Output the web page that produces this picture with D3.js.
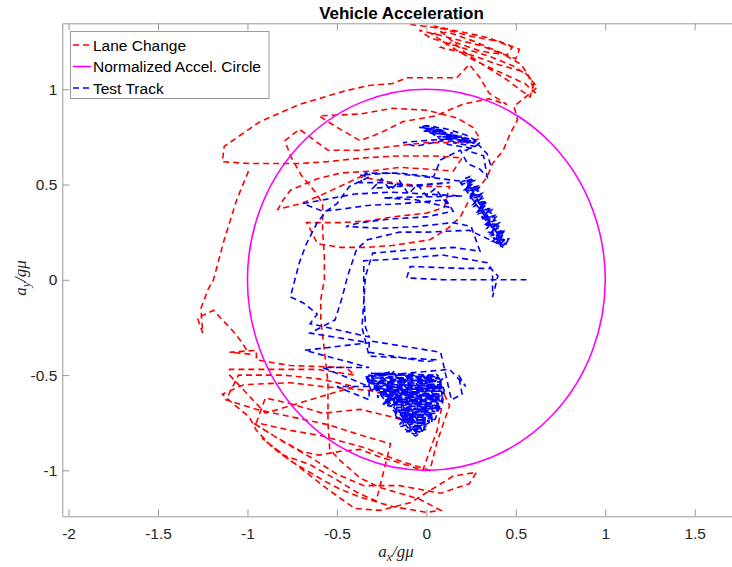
<!DOCTYPE html>
<html>
<head>
<meta charset="utf-8">
<script src="https://cdn.jsdelivr.net/npm/d3@7"></script>
<style>
    body { margin: 0; background: #fff; }
    svg { display: block; }
</style>
</head>
<body>
<div id="chart"></div>
<script>
    // Series names and tick labels
    var seriesNames = ["Lane Change", "Normalized Accel. Circle", "Test Track"];
    var xTicks = [-2, -1.5, -1, -0.5, 0, 0.5, 1, 1.5];
    var xTickLabels = ["-2", "-1.5", "-1", "-0.5", "0", "0.5", "1", "1.5"];
    var yTicks = [-1, -0.5, 0, 0.5, 1];
    var yTickLabels = ["-1", "-0.5", "0", "0.5", "1"];
    var circleRadius = 1;

    // Lane change trace [ax/g mu, ay/g mu]
    var laneChange = [
        [-0.09,1.34],[0.08,1.32],[0.24,1.28],[0.41,1.25],[0.52,1.21],[0.50,1.16],[0.30,1.23],[0.13,1.27],[-0.04,1.31],
        [0.02,1.27],[0.19,1.22],[0.36,1.17],[0.49,1.12],[0.57,1.07],[0.61,0.98],[0.55,1.03],[0.41,1.09],[0.27,1.15],
        [0.16,1.21],[0.03,1.29],[0.12,1.30],[0.27,1.25],[0.42,1.19],[0.53,1.13],[0.60,1.03],[0.58,0.96],
        [0.52,1.00],[0.45,1.05],[0.33,1.12],[0.22,1.19],[0.05,1.33],[0.20,1.30],[0.35,1.27],[0.48,1.22],[0.45,1.18],
        [0.30,1.20],[0.15,1.25],[0.08,1.22],[0.25,1.18],[0.40,1.13],[0.55,1.09],[0.62,1.01],
        [0.49,0.91],[0.51,0.84],[0.47,0.77],[0.43,0.68],[0.37,0.61],[0.34,0.54],[0.24,0.42],[0.19,0.33],[0.12,0.27],
        [0.02,0.21],[-0.19,0.18],[-0.33,0.17],[-0.48,0.17],[-0.61,0.19],[-0.64,0.25],[-0.67,0.30],[-0.48,0.30],
        [-0.32,0.31],[-0.19,0.33],[0.00,0.35],[0.10,0.38],[0.13,0.49],[0.00,0.49],[-0.19,0.51],[-0.37,0.54],
        [-0.55,0.46],[-0.70,0.40],[-0.83,0.37],[-0.80,0.42],[-0.76,0.47],[-0.61,0.53],[-0.48,0.56],[-0.32,0.57],
        [-0.15,0.59],[0.02,0.58],[0.15,0.57],[0.20,0.64],[0.05,0.65],[-0.15,0.65],[-0.35,0.64],[-0.55,0.62],
        [-0.71,0.61],[-0.99,0.61],[-1.14,0.62],[-1.13,0.70],[-0.93,0.83],[-0.71,0.92],[-0.46,0.99],[-0.32,1.02],
        [-0.19,1.03],[-0.11,1.06],[0.17,1.06],[0.24,1.13],[0.30,1.06],[0.35,0.98],[0.45,0.92],[0.35,0.95],
        [0.20,0.92],[0.05,0.86],[-0.13,0.83],[-0.26,0.77],[-0.37,0.73],[-0.50,0.80],[-0.60,0.86],[-0.37,0.87],
        [-0.19,0.90],[0.00,0.89],[0.17,0.85],[0.26,0.80],[0.30,0.74],[0.20,0.72],[0.00,0.72],[-0.19,0.70],
        [-0.37,0.68],[-0.55,0.68],[-0.71,0.79],[-0.79,0.73],[-0.76,0.65],[-0.70,0.55],[-0.62,0.46],[-0.58,0.40],
        [-0.58,0.26],[-0.57,0.12],[-0.57,0.00],[-0.59,-0.10],[-0.59,-0.21],[-0.57,-0.37],[-0.55,-0.54],[-0.55,-0.75],
        [-0.54,-0.89],[-0.48,-0.95],[-0.37,-1.04],[-0.26,-1.09],[-0.15,-1.12],[-0.04,-1.15],[0.08,-1.21],[0.00,-1.22],
        [-0.19,-1.19],[-0.37,-1.14],[-0.48,-1.10],[-0.58,-1.05],[-0.67,-1.00],[-0.76,-0.95],[-0.86,-0.88],[-0.95,-0.79],
        [-0.99,-0.72],[-1.08,-0.65],[-1.14,-0.60],[-1.02,-0.55],[-0.76,-0.54],[-0.58,-0.56],[-0.32,-0.58],[-0.15,-0.62],
        [-0.09,-0.75],[-0.19,-0.72],[-0.37,-0.68],[-0.58,-0.70],[-0.76,-0.65],[-0.90,-0.62],[-0.95,-0.75],[-0.76,-0.79],
        [-0.58,-0.82],[-0.35,-0.88],[-0.15,-0.95],[0.02,-1.00],[0.06,-0.85],[0.13,-0.66],[0.10,-0.60],[0.06,-0.79],
        [-0.02,-1.00],[-0.15,-0.96],[-0.26,-0.93],[-0.37,-0.89],[-0.48,-0.90],[-0.60,-0.92],[-0.70,-0.90],[-0.85,-0.82],
        [-0.97,-0.75],[-0.80,-0.85],[-0.65,-0.93],[-0.50,-1.02],[-0.35,-1.08],[-0.15,-1.08],[0.08,-1.12],[0.24,-1.07],
        [0.28,-1.01],[0.15,-1.03],[-0.09,-1.17],[-0.26,-1.21],[-0.40,-1.20],[-0.55,-1.10],
        [-0.92,-0.83],[-0.80,-0.92],[-0.65,-0.97],[-0.50,-1.05],[-0.38,-1.12],[-0.28,-1.16],[-0.20,-0.86],
        [-0.35,-0.82],[-0.55,-0.76],[-0.75,-0.72],[-0.95,-0.68],[-1.12,-0.63],[-1.05,-0.50],[-0.80,-0.50],
        [-0.60,-0.52],[-0.40,-0.56],[-0.90,-0.70],[-1.10,-0.50],
        [-1.10,-0.47],[-0.89,-0.47],[-0.61,-0.47],[-0.40,-0.50],[-0.45,-0.46],[-0.76,-0.45],[-0.95,-0.42],[-0.95,-0.37],
        [-1.10,-0.38],[-0.99,-0.39],[-1.03,-0.33],[-1.08,-0.27],[-1.14,-0.21],[-1.19,-0.16],[-1.28,-0.20],[-1.25,-0.28],
        [-1.26,-0.15],[-1.22,-0.05],[-1.19,0.00],[-1.13,0.21],[-1.06,0.42],[-0.99,0.58]
    ];

    // Test track trace [ax/g mu, ay/g mu]
    var testTrack = [
        [0.56,0.00],[0.30,0.00],[0.10,0.00],[-0.11,0.01],[-0.09,0.07],[0.19,0.06],[0.36,0.06],[0.40,0.02],[0.37,-0.09],
        [0.37,0.05],[0.34,0.09],[0.09,0.13],[-0.15,0.11],[-0.35,0.10],[-0.35,0.05],[-0.35,-0.07],[-0.34,-0.25],
        [-0.32,-0.30],[-0.65,-0.23],[-0.61,-0.18],[-0.69,-0.12],[-0.76,-0.09],[-0.71,0.09],[-0.67,0.19],[-0.61,0.30],
        [-0.56,0.36],[-0.50,0.40],[-0.43,0.49],[-0.32,0.54],[-0.37,0.55],[-0.19,0.56],[0.00,0.54],[0.17,0.52],[0.22,0.52],
        // elongated cluster
        [0.199,0.517],[0.253,0.524],[0.223,0.479],[0.277,0.485],[0.247,0.440],[0.301,0.447],[0.271,0.402],[0.325,0.409],
        [0.295,0.363],[0.349,0.370],[0.319,0.325],[0.373,0.332],[0.343,0.287],[0.397,0.293],[0.367,0.248],[0.425,0.255],
        [0.385,0.205],[0.445,0.215],[0.410,0.185],[0.450,0.190],[0.430,0.180],[0.390,0.225],[0.440,0.235],[0.375,0.262],
        [0.410,0.273],[0.355,0.300],[0.385,0.312],[0.331,0.338],[0.361,0.350],[0.307,0.377],[0.337,0.389],[0.283,0.415],
        [0.313,0.427],[0.259,0.454],[0.289,0.466],[0.235,0.492],[0.265,0.504],[0.210,0.530],[0.240,0.540],[0.225,0.520],
        [0.260,0.460],[0.290,0.410],[0.320,0.360],[0.350,0.310],[0.380,0.260],[0.410,0.220],[0.430,0.200],
        [0.190,0.511],[0.262,0.530],[0.214,0.473],[0.286,0.491],[0.238,0.434],[0.310,0.453],[0.262,0.396],[0.334,0.415],
        [0.286,0.357],[0.358,0.376],[0.310,0.319],[0.382,0.338],[0.334,0.281],[0.406,0.299],[0.358,0.242],[0.440,0.261],
        [0.372,0.204],[0.460,0.215],[0.440,0.180],[0.400,0.190],[0.436,0.251],[0.364,0.232],[0.412,0.290],[0.340,0.271],
        [0.388,0.328],[0.316,0.309],[0.364,0.366],[0.292,0.347],[0.340,0.405],[0.268,0.386],[0.316,0.443],[0.244,0.424],
        [0.292,0.481],[0.220,0.463],[0.268,0.520],[0.196,0.501],
        [0.25,0.50],[0.23,0.49],[0.27,0.47],[0.25,0.45],[0.29,0.43],[0.27,0.41],[0.31,0.39],[0.29,0.37],[0.33,0.35],
        [0.31,0.33],[0.35,0.31],[0.33,0.29],[0.38,0.27],[0.35,0.25],[0.41,0.24],[0.37,0.22],[0.44,0.21],[0.39,0.20],
        [0.45,0.19],[0.41,0.18],[0.43,0.17],[0.40,0.19],
        // middle loops
        [0.24,0.26],[0.00,0.25],[-0.15,0.25],[-0.33,0.21],[-0.39,0.16],[-0.44,0.02],[-0.47,-0.09],[-0.51,-0.21],
        [-0.65,-0.28],[-0.32,-0.33],[-0.68,-0.37],[-0.32,-0.46],[-0.58,-0.46],[-0.32,-0.56],[-0.50,-0.56],[-0.32,-0.63],
        // lower cluster
        [-0.32,-0.50],[0.06,-0.53],[-0.30,-0.53],[0.08,-0.55],[-0.29,-0.56],[0.09,-0.57],[-0.28,-0.58],[0.08,-0.60],
        [-0.25,-0.60],[0.07,-0.62],[-0.22,-0.62],[0.07,-0.64],[-0.18,-0.64],[0.06,-0.66],[-0.16,-0.67],[0.05,-0.69],
        [-0.14,-0.70],[0.04,-0.71],[-0.12,-0.73],[0.02,-0.74],[-0.10,-0.76],[0.00,-0.77],[-0.08,-0.79],[-0.03,-0.80],
        [-0.06,-0.82],[-0.14,-0.77],[0.03,-0.72],[-0.18,-0.69],[0.06,-0.67],[-0.24,-0.63],[0.08,-0.61],[-0.27,-0.59],
        [0.09,-0.56],[-0.31,-0.54],[0.07,-0.52],[-0.29,-0.49],[0.05,-0.50],[-0.20,-0.52],[0.02,-0.58],[-0.25,-0.57],
        [-0.02,-0.63],[-0.22,-0.66],[0.00,-0.69],[-0.17,-0.72],[-0.02,-0.76],[-0.12,-0.80],[-0.04,-0.78],[0.05,-0.73],
        [0.08,-0.65],[0.10,-0.58],[0.07,-0.51],
        [-0.31,-0.49],[0.07,-0.515],[-0.31,-0.515],[0.085,-0.535],[-0.30,-0.545],[0.09,-0.56],[-0.29,-0.57],[0.085,-0.585],
        [-0.27,-0.59],[0.08,-0.61],[-0.24,-0.61],[0.075,-0.63],[-0.20,-0.63],[0.07,-0.65],[-0.17,-0.655],[0.06,-0.675],
        [-0.15,-0.685],[0.05,-0.70],[-0.13,-0.715],[0.03,-0.725],[-0.11,-0.745],[0.01,-0.755],[-0.09,-0.775],[-0.01,-0.785],
        [-0.07,-0.81],[-0.09,-0.80],[-0.10,-0.55],[-0.13,-0.76],[-0.15,-0.52],[-0.17,-0.72],[-0.20,-0.51],[-0.21,-0.66],
        [-0.25,-0.50],[-0.27,-0.62],[-0.30,-0.50],[-0.31,-0.58],[-0.34,-0.50],[-0.05,-0.81],[-0.05,-0.52],[-0.01,-0.79],
        [0.00,-0.52],[0.03,-0.75],[0.04,-0.52],[0.06,-0.70],[0.08,-0.53],[0.09,-0.64],
        [-0.33,-0.52],[-0.10,-0.78],[-0.26,-0.49],[-0.02,-0.80],[-0.18,-0.49],[0.04,-0.74],[-0.10,-0.50],[0.08,-0.68],
        [-0.02,-0.50],[0.10,-0.60],[0.06,-0.50],[0.09,-0.52],[-0.15,-0.76],[0.02,-0.50],[-0.25,-0.66],[-0.08,-0.50],
        [-0.31,-0.58],[-0.18,-0.48],[-0.34,-0.51],
        [0.13,-0.47],[0.22,-0.56],[0.18,-0.50],[0.20,-0.60],[0.14,-0.63],
        // back up through the middle
        [0.08,-0.38],[-0.32,-0.32],[-0.32,-0.38],[0.00,-0.43],[0.06,-0.42],[-0.32,-0.40],[-0.36,-0.25],[-0.34,0.02],
        [-0.30,0.14],[-0.05,0.16],[0.15,0.17],[0.30,0.15],[0.25,0.28],[0.15,0.30],[-0.05,0.28],[-0.25,0.27],[-0.45,0.28],
        [-0.37,0.30],[-0.19,0.32],[0.00,0.33],[0.15,0.36],[0.11,0.42],[-0.13,0.40],[-0.33,0.39],[-0.48,0.37],
        [-0.58,0.36],[-0.69,0.40],[-0.40,0.45],[-0.20,0.46],[0.00,0.45],[0.20,0.44],[-0.24,0.43],[-0.06,0.42],[0.13,0.38],
        [0.05,0.48],[0.00,0.44],[-0.05,0.50],[-0.10,0.45],[-0.15,0.52],[-0.20,0.47],[-0.25,0.53],[-0.30,0.48],
        [0.13,0.51],[-0.07,0.49],[-0.24,0.51],[-0.37,0.51],[-0.34,0.56],[-0.15,0.56],[0.04,0.54],[0.08,0.63],
        [0.19,0.68],[0.23,0.61],[0.30,0.58],[0.34,0.54],[0.32,0.65],[0.22,0.68],
        // upper cluster
        [0.27,0.70],[0.15,0.72],[0.25,0.73],[0.10,0.74],[0.20,0.75],[0.06,0.75],[0.15,0.76],[0.02,0.77],[0.10,0.78],
        [-0.02,0.78],[0.05,0.79],[-0.04,0.80],[0.00,0.81],[0.12,0.79],[0.22,0.76],[0.30,0.72],[0.26,0.69],[0.12,0.71],
        [-0.03,0.81],[0.05,0.80],[0.00,0.795],[0.10,0.785],[0.03,0.78],[0.15,0.77],[0.07,0.765],[0.20,0.755],
        [0.12,0.75],[0.25,0.74],[0.17,0.735],[0.28,0.725],[0.22,0.72],[0.27,0.715],[0.18,0.745],[0.08,0.775],
        [-0.02,0.80],[0.02,0.775],[0.13,0.76],[0.22,0.745],
        [-0.02,0.73],[-0.13,0.72],[-0.06,0.70],[0.09,0.73],[0.28,0.72],[0.34,0.66],[0.36,0.60]
    ];

    // Size of the page and the axes box
    var width = 732, height = 567;
    var box = { left: 62.3, right: 740.5, top: 23.3, bottom: 516.3 };

    // Scales (axes limits)
    var x = d3.scaleLinear().domain([-2.035, 1.756]).range([box.left, box.right]);
    var y = d3.scaleLinear().domain([-1.241, 1.346]).range([box.bottom, box.top]);

    var axisColor = "#9a9a9a";
    var textColor = "#262626";

    var svg = d3.select("#chart")
        .append("svg")
        .attr("width", width)
        .attr("height", height)
        .style("font-family", "'Liberation Sans', Arial, sans-serif");

    // Clip the data to the axes box
    svg.append("clipPath")
        .attr("id", "plot-clip")
        .append("rect")
        .attr("x", box.left)
        .attr("y", box.top)
        .attr("width", box.right - box.left)
        .attr("height", box.bottom - box.top);

    var plot = svg.append("g").attr("clip-path", "url(#plot-clip)");

    var line = d3.line()
        .x(d => x(d[0]))
        .y(d => y(d[1]));

    // Lane change (red, dashed)
    plot.append("path")
        .datum(laneChange)
        .attr("fill", "none")
        .attr("stroke", "#ff0000")
        .attr("stroke-width", 1.6)
        .attr("stroke-dasharray", "6,4")
        .attr("d", line);

    // Normalized circle (magenta)
    plot.append("ellipse")
        .attr("cx", x(0))
        .attr("cy", y(0))
        .attr("rx", x(circleRadius) - x(0))
        .attr("ry", y(0) - y(circleRadius))
        .attr("fill", "none")
        .attr("stroke", "#ff00ff")
        .attr("stroke-width", 1.6);

    // Test track (blue, dashed)
    plot.append("path")
        .datum(testTrack)
        .attr("fill", "none")
        .attr("stroke", "#0000ff")
        .attr("stroke-width", 1.6)
        .attr("stroke-dasharray", "6,4")
        .attr("d", line);

    // Axes, ticks point inwards like MATLAB
    var xAxis = svg.append("g")
        .attr("transform", `translate(0, ${box.bottom})`)
        .call(d3.axisBottom(x).tickValues(xTicks).tickSizeInner(-7).tickSizeOuter(0).tickPadding(12)
            .tickFormat((d, i) => xTickLabels[i]));

    var xAxisTop = svg.append("g")
        .attr("transform", `translate(0, ${box.top})`)
        .call(d3.axisTop(x).tickValues(xTicks).tickSizeInner(-7).tickSizeOuter(0).tickFormat(""));

    var yAxis = svg.append("g")
        .attr("transform", `translate(${box.left}, 0)`)
        .call(d3.axisLeft(y).tickValues(yTicks).tickSizeInner(-7).tickSizeOuter(0).tickPadding(5)
            .tickFormat((d, i) => yTickLabels[i]));

    var yAxisRight = svg.append("g")
        .attr("transform", `translate(${box.right}, 0)`)
        .call(d3.axisRight(y).tickValues(yTicks).tickSizeInner(-7).tickSizeOuter(0).tickFormat(""));

    [xAxis, xAxisTop, yAxis, yAxisRight].forEach(function (g) {
        g.select(".domain").attr("stroke", axisColor);
        g.selectAll(".tick line").attr("stroke", axisColor);
        g.selectAll("text")
            .attr("fill", textColor)
            .style("font-size", "15.5px")
            .style("font-family", "'Liberation Sans', Arial, sans-serif");
    });

    // Title
    svg.append("text")
        .attr("x", 401.5)
        .attr("y", 19)
        .attr("text-anchor", "middle")
        .attr("fill", "#000")
        .style("font-size", "17px")
        .style("font-weight", "bold")
        .text("Vehicle Acceleration");

    // Axis labels (math italics with subscripts)
    var xLabel = svg.append("text")
        .attr("x", 396)
        .attr("y", 557)
        .attr("text-anchor", "middle")
        .attr("fill", textColor)
        .style("font-family", "'Liberation Serif', 'DejaVu Serif', serif")
        .style("font-style", "italic")
        .style("font-size", "17px");
    xLabel.append("tspan").text("a");
    xLabel.append("tspan").attr("dy", 4).style("font-size", "12px").text("x");
    xLabel.append("tspan").attr("dy", -4).text("/gμ");

    var yLabel = svg.append("text")
        .attr("transform", "translate(26, 278) rotate(-90)")
        .attr("text-anchor", "middle")
        .attr("fill", textColor)
        .style("font-family", "'Liberation Serif', 'DejaVu Serif', serif")
        .style("font-style", "italic")
        .style("font-size", "17px");
    yLabel.append("tspan").text("a");
    yLabel.append("tspan").attr("dy", 4).style("font-size", "12px").text("y");
    yLabel.append("tspan").attr("dy", -4).text("/gμ");

    // Legend
    var legend = svg.append("g");
    legend.append("rect")
        .attr("x", 70.5)
        .attr("y", 31.5)
        .attr("width", 198.5)
        .attr("height", 67)
        .attr("fill", "#fff")
        .attr("stroke", axisColor);

    var legendStyles = [
        { color: "#ff0000", dash: "6,4" },
        { color: "#ff00ff", dash: null },
        { color: "#0000ff", dash: "6,4" }
    ];

    seriesNames.forEach(function (name, i) {
        var cy = 45 + i * 21.5;
        legend.append("line")
            .attr("x1", 73)
            .attr("x2", 91)
            .attr("y1", cy)
            .attr("y2", cy)
            .attr("stroke", legendStyles[i].color)
            .attr("stroke-width", 1.6)
            .attr("stroke-dasharray", legendStyles[i].dash);
        legend.append("text")
            .attr("x", 93)
            .attr("y", cy + 5.5)
            .attr("fill", "#000")
            .style("font-size", "15.5px")
            .text(name);
    });
</script>
</body>
</html>
